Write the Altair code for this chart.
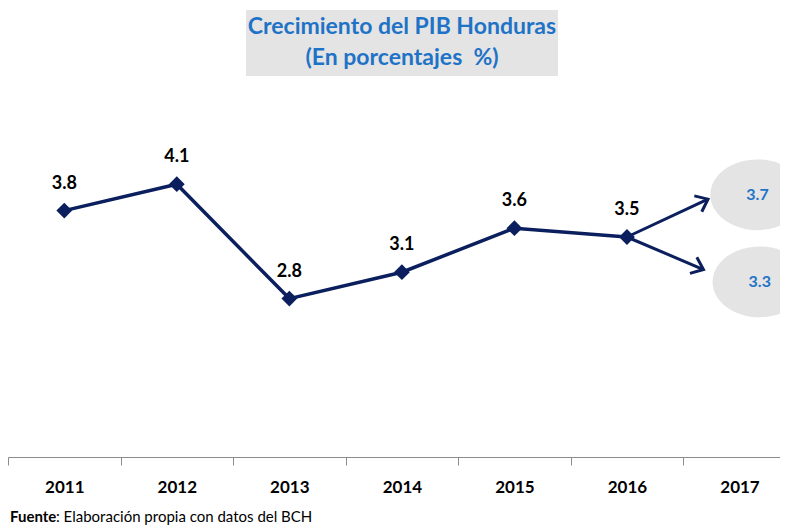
import math
import altair as alt
import pandas as pd

# ---------------- data ----------------
years = [2011, 2012, 2013, 2014, 2015, 2016]
growth = [3.8, 4.1, 2.8, 3.1, 3.6, 3.5]
growth_labels = ["3.8", "4.1", "2.8", "3.1", "3.6", "3.5"]

proj_labels = ["3.7", "3.3"]
arrow_tip_year = [2016.72, 2016.68]
arrow_tip_value = [3.93, 3.13]
bubble_year = [2017.16, 2017.18]
bubble_value = [3.98, 2.99]

axis_years = [2011, 2012, 2013, 2014, 2015, 2016, 2017]

title_lines = ["Crecimiento del PIB Honduras", "(En porcentajes\u00a0 %)"]
source_bold = "Fuente"
source_rest = ": Elaboración propia con datos del BCH"

# ---------------- layout ----------------
W, H = 772, 352
X_DOMAIN = [2010.5, 2017.36]
Y_DOMAIN = [1, 5]
PX_YEAR = W / (X_DOMAIN[1] - X_DOMAIN[0])
PX_VAL = H / (Y_DOMAIN[1] - Y_DOMAIN[0])
NAVY = "#0b1f5e"
BLUE = "#1f73c7"
GRAY = "#e4e4e4"
FONT = "Lato"

main = pd.DataFrame({"year": years, "value": growth, "label": growth_labels})

start_year, start_val = years[-1], growth[-1]
arrow_rows = []
for i in range(2):
    arrow_rows.append({"id": i, "year": start_year, "value": start_val, "order": 0})
    arrow_rows.append({"id": i, "year": arrow_tip_year[i], "value": arrow_tip_value[i], "order": 1})
arrows = pd.DataFrame(arrow_rows)

tips = pd.DataFrame({
    "year": arrow_tip_year,
    "value": arrow_tip_value,
    "ang": [
        math.degrees(math.atan2(-(v - start_val) * PX_VAL, (y - start_year) * PX_YEAR)) % 360
        for y, v in zip(arrow_tip_year, arrow_tip_value)
    ],
})
bubbles = pd.DataFrame({"year": bubble_year, "value": bubble_value, "label": proj_labels})
one = pd.DataFrame({"a": [0]})

xscale = alt.Scale(domain=X_DOMAIN, nice=False, zero=False)
yscale = alt.Scale(domain=Y_DOMAIN, nice=False, zero=False)
half = PX_YEAR / 2

x_axis = alt.Axis(
    values=axis_years, format="d", title=None, grid=False,
    tickOffset=-half, labelOffset=half, labelFlush=False,
    domainColor="#8c8c8c", tickColor="#8c8c8c", tickSize=8,
    labelFont=FONT, labelFontWeight="bold", labelFontSize=17, labelColor="black",
    labelPadding=14, labelOverlap=False,
)

X = alt.X("year:Q", scale=xscale, axis=x_axis, title=None)
Y = alt.Y("value:Q", scale=yscale, axis=None)

ellipse = ("M -1 0 C -1 -0.4142 -0.5523 -0.75 0 -0.75 C 0.5523 -0.75 1 -0.4142 1 0 "
           "C 1 0.4142 0.5523 0.75 0 0.75 C -0.5523 0.75 -1 0.4142 -1 0 Z")
chevron = "M -1 -0.8 L 0 0 L -1 0.8"

bubble_layer = alt.Chart(bubbles).mark_point(
    shape=ellipse, filled=True, color=GRAY, opacity=1, size=8900, clip=True
).encode(x=X, y=Y)

bubble_text = alt.Chart(bubbles).mark_text(
    font=FONT, fontWeight="bold", fontSize=16, color=BLUE
).encode(x=X, y=Y, text="label:N")

shafts = alt.Chart(arrows).mark_line(color=NAVY, strokeWidth=3).encode(
    x=X, y=Y, detail="id:N", order="order:Q"
)

heads = alt.Chart(tips).mark_point(
    shape=chevron, filled=False, color=NAVY, strokeWidth=3, opacity=1, size=480,
    strokeJoin="miter"
).encode(x=X, y=Y, angle=alt.Angle("ang:Q", scale=None))

line = alt.Chart(main).mark_line(color=NAVY, strokeWidth=3.5).encode(x=X, y=Y)
points = alt.Chart(main).mark_point(
    shape="diamond", filled=True, color=NAVY, opacity=1, size=250
).encode(x=X, y=Y)
labels = alt.Chart(main).mark_text(
    font=FONT, fontWeight="bold", fontSize=18, color="black", dy=-27
).encode(x=X, y=Y, text="label:N")

title_box = alt.Chart(one).mark_rect(color=GRAY).encode(
    x=alt.value(238), x2=alt.value(550), y=alt.value(-95), y2=alt.value(-29)
)
title1 = alt.Chart(one).mark_text(
    text=title_lines[0], font=FONT, fontWeight="bold", fontSize=23, color=BLUE
).encode(x=alt.value(394), y=alt.value(-78))
title2 = alt.Chart(one).mark_text(
    text=title_lines[1], font=FONT, fontWeight="bold", fontSize=23, color=BLUE
).encode(x=alt.value(394), y=alt.value(-47))

foot1 = alt.Chart(one).mark_text(
    text=source_bold, font=FONT, fontWeight="bold", fontSize=15, color="black", align="left"
).encode(x=alt.value(2), y=alt.value(H + 60))
foot2 = alt.Chart(one).mark_text(
    text=source_rest, font=FONT, fontSize=15, color="black", align="left"
).encode(x=alt.value(48), y=alt.value(H + 60))

chart = alt.layer(
    line, title_box, title1, title2, bubble_layer, shafts, heads, points, labels,
    bubble_text, foot1, foot2
).properties(
    width=W, height=H,
    autosize=alt.AutoSizeParams(type="none"),
    padding={"left": 0, "right": 0, "top": 97, "bottom": 68},
).configure(background="white").configure_view(stroke=None)

chart.save("out.html", embed_options={"renderer": "svg", "actions": False})
